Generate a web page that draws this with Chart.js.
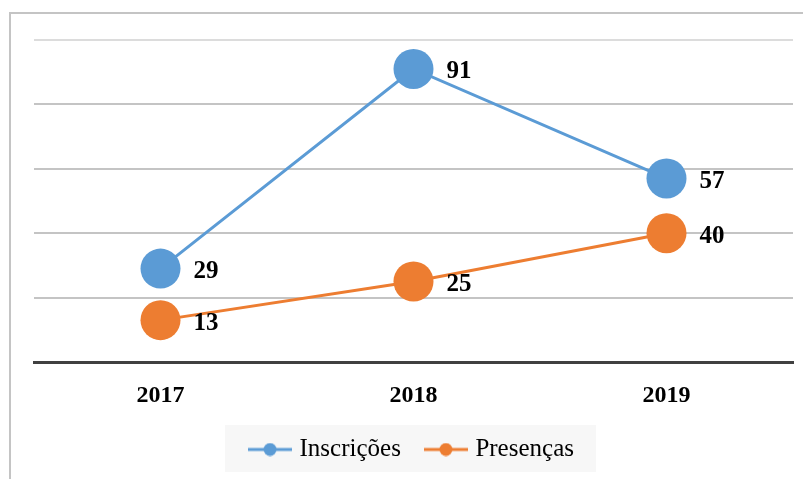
<!DOCTYPE html>
<html>
<head>
<meta charset="utf-8">
<script src="https://cdn.jsdelivr.net/npm/chart.js@4/dist/chart.umd.min.js"></script>
<style>
  html, body { margin: 0; padding: 0; background: #fff; }
  canvas { display: block; }
</style>
</head>
<body>
<canvas id="c" width="803" height="479"></canvas>
<script>
const categories = ['2017', '2018', '2019'];
const inscricoes = [29, 91, 57];
const presencas = [13, 25, 40];
const seriesNames = ['Inscrições', 'Presenças'];
const yTicks = [0, 20, 40, 60, 80, 100];

const BLUE = '#5b9bd5';
const ORANGE = '#ed7d31';
const SERIF = '"Liberation Serif", "Times New Roman", serif';

function legendMarker(color) {
  const c = document.createElement('canvas');
  c.width = 44; c.height = 14;
  const g = c.getContext('2d');
  g.strokeStyle = color; g.lineWidth = 3;
  g.beginPath(); g.moveTo(0, 7); g.lineTo(44, 7); g.stroke();
  g.fillStyle = color;
  g.beginPath(); g.arc(22, 7, 6.5, 0, Math.PI * 2); g.fill();
  return c;
}
const markers = [legendMarker(BLUE), legendMarker(ORANGE)];

const decorPlugin = {
  id: 'decor',
  beforeDraw(chart) {
    const ctx = chart.ctx;
    ctx.save();
    ctx.strokeStyle = '#c4c4c4';
    ctx.lineWidth = 2;
    ctx.beginPath();
    ctx.moveTo(10, 479); ctx.lineTo(10, 13); ctx.lineTo(803, 13);
    ctx.stroke();
    const boxes = chart.legend && chart.legend.legendHitBoxes;
    if (boxes && boxes.length) {
      let l = Infinity, r = -Infinity, t = Infinity, b = -Infinity;
      boxes.forEach(h => {
        l = Math.min(l, h.left); r = Math.max(r, h.left + h.width);
        t = Math.min(t, h.top); b = Math.max(b, h.top + h.height);
      });
      ctx.fillStyle = '#f7f7f7';
      ctx.fillRect(l - 28, t - 12, (r - l) + 50, (b - t) + 22);
    }
    ctx.restore();
  },
  afterDatasetsDraw(chart) {
    const ctx = chart.ctx;
    ctx.save();
    ctx.font = 'bold 25px ' + SERIF;
    ctx.fillStyle = '#000';
    ctx.textAlign = 'left';
    ctx.textBaseline = 'middle';
    chart.data.datasets.forEach((ds, di) => {
      const meta = chart.getDatasetMeta(di);
      meta.data.forEach((pt, i) => {
        ctx.fillText(String(ds.data[i]), pt.x + 33, pt.y + 3);
      });
    });
    ctx.restore();
  }
};

new Chart(document.getElementById('c'), {
  type: 'line',
  data: {
    labels: categories,
    datasets: [
      {
        label: seriesNames[0],
        data: inscricoes,
        borderColor: BLUE,
        backgroundColor: BLUE,
        borderWidth: 3,
        pointRadius: 20,
        pointHoverRadius: 20,
        pointBackgroundColor: BLUE,
        pointBorderColor: BLUE,
        pointBorderWidth: 0,
        tension: 0,
        clip: false
      },
      {
        label: seriesNames[1],
        data: presencas,
        borderColor: ORANGE,
        backgroundColor: ORANGE,
        borderWidth: 3,
        pointRadius: 20,
        pointHoverRadius: 20,
        pointBackgroundColor: ORANGE,
        pointBorderColor: ORANGE,
        pointBorderWidth: 0,
        tension: 0,
        clip: false
      }
    ]
  },
  options: {
    responsive: false,
    animation: false,
    events: [],
    layout: { autoPadding: false, padding: { left: 34, right: 10, top: 40, bottom: 7 } },
    plugins: {
      tooltip: { enabled: false },
      legend: {
        display: true,
        position: 'bottom',
        labels: {
          usePointStyle: true,
          pointStyleWidth: 34,
          padding: 28,
          color: '#000',
          font: { family: SERIF, size: 25, weight: 'normal' },
          generateLabels(chart) {
            const items = Chart.defaults.plugins.legend.labels.generateLabels(chart);
            items.forEach((it, i) => { it.pointStyle = markers[i]; });
            return items;
          }
        }
      }
    },
    scales: {
      x: {
        offset: true,
        grid: { display: false, drawTicks: false },
        border: { display: true, color: '#404040', width: 3 },
        ticks: {
          padding: 19,
          color: '#000',
          font: { family: SERIF, size: 24, weight: 'bold' }
        },
        afterFit(scale) { scale.height = 47; }
      },
      y: {
        min: 0,
        max: 100,
        afterBuildTicks(scale) { scale.ticks = yTicks.map(v => ({ value: v })); },
        ticks: { display: false },
        border: { display: false },
        grid: {
          drawTicks: false,
          lineWidth: 2,
          color(ctx) {
            const v = ctx.tick && ctx.tick.value;
            if (v === 0) return 'rgba(0,0,0,0)';
            if (v === 100) return '#dcdcdc';
            return '#c4c4c4';
          }
        }
      }
    }
  },
  plugins: [decorPlugin]
});
</script>
</body>
</html>
